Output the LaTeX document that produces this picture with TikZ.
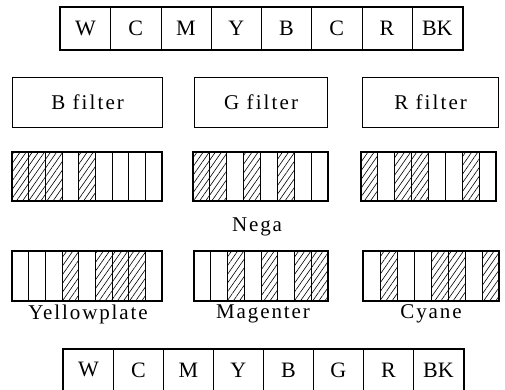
\documentclass[tikz,border=0pt]{standalone}
\usepackage{fontspec}
\setmainfont{Liberation Serif}
\usetikzlibrary{patterns.meta}
\tikzset{
  barcell/.style={draw, line width=0.8pt, minimum width=50pt, minimum height=42pt,
    inner sep=0pt, anchor=north west, font=\fontsize{22}{26}\selectfont},
  filterbox/.style={draw, line width=1.2pt, inner sep=0pt, anchor=north west,
    font=\fontsize{21}{24}\selectfont\addfontfeatures{LetterSpace=10}},
  lbl/.style={inner sep=0pt, font=\fontsize{21}{24}\selectfont\addfontfeatures{LetterSpace=9}},
  hatch/.style={pattern={Lines[angle=55,distance=5pt,line width=0.6pt]}},
  divider/.style={line width=0.8pt},
  outline/.style={line width=1.6pt}
}
\newcommand\mystrip[6]{%
  \pgfmathsetmacro\cw{(#3-#1)/#5}%
  \pgfmathtruncatemacro\nm{#5-1}%
  \foreach \i in {#6}{\fill[hatch] ({#1+(\i-1)*\cw},#2) rectangle ({#1+\i*\cw},#4);}%
  \foreach \i in {1,...,\nm}{\draw[divider] ({#1+\i*\cw},#2) -- ({#1+\i*\cw},#4);}%
  \draw[outline] (#1,#2) rectangle (#3,#4);%
}
\begin{document}
\begin{tikzpicture}[x=1pt,y=-1pt]
\useasboundingbox (0,0) rectangle (505,390);
% top colour bar
\foreach \t [count=\k] in {W,C,M,Y,B,C,R,BK}{
  \node[barcell, minimum width=50.25pt] (t\k) at ({60+(\k-1)*50.25},7) {\t};
}
\draw[outline] (t1.north west) rectangle (t8.south east);
% filters
\node[filterbox, minimum width=150pt, minimum height=50pt] (fb) at (12,77) {B filter};
\node[filterbox, minimum width=133pt, minimum height=50pt] (fg) at (194,77) {G filter};
\node[filterbox, minimum width=136pt, minimum height=50pt] (fr) at (362,77) {R filter};
% negative strips
\mystrip{12}{152}{162}{201}{9}{1,2,3,5}
\mystrip{193}{152}{328}{201}{8}{1,2,4,6}
\mystrip{361}{152}{496}{201}{8}{1,3,4,7}
\node[lbl] (nega) at (257,227) {Nega};
% plate strips
\mystrip{12}{251}{162}{301}{9}{4,6,7,8}
\mystrip{194}{251}{328}{301}{8}{3,5,7,8}
\mystrip{363}{251}{499}{301}{8}{2,5,6,8}
\node[lbl] (yp) at (88,314) {Yellowplate};
\node[lbl] (mg) at (263,314) {Magenter};
\node[lbl] (cy) at (431,314) {Cyane};
% bottom colour bar
\foreach \t [count=\k] in {W,C,M,Y,B,G,R,BK}{
  \node[barcell, minimum width=50pt, minimum height=41pt] (b\k) at ({63+(\k-1)*50},349) {\t};
}
\draw[outline] (b1.north west) rectangle (b8.south east);
\end{tikzpicture}
\end{document}
